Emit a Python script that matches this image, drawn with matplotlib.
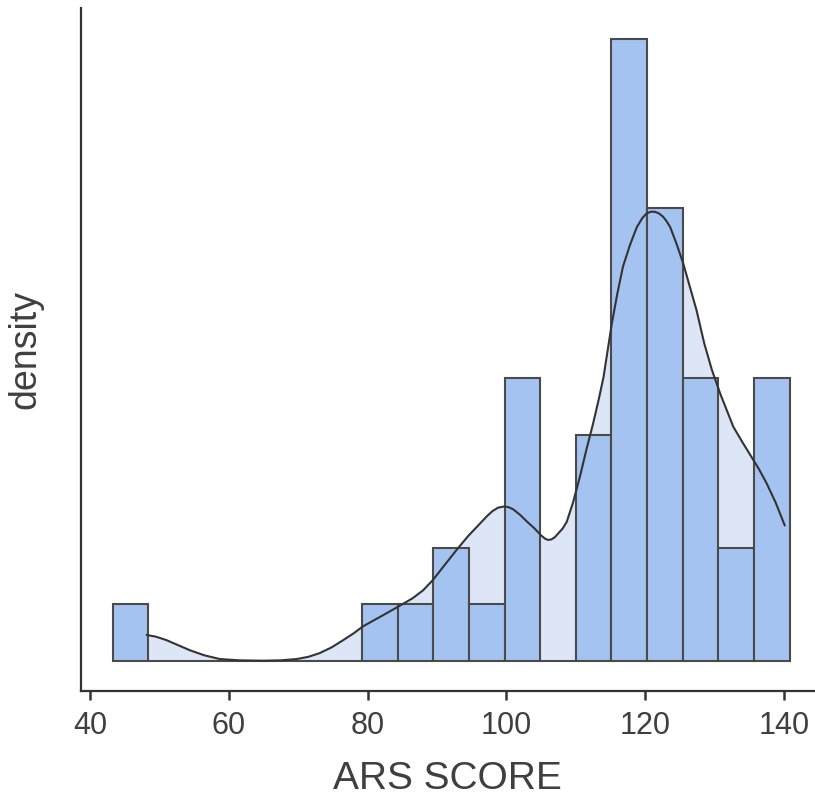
import numpy as np
import matplotlib
matplotlib.use("Agg")
import matplotlib.pyplot as plt

# histogram: 19 equal bins between the lowest and highest score
bin_lo, bin_hi = 43.3, 140.8
counts = [1, 0, 0, 0, 0, 0, 0, 1, 1, 2, 1, 5, 0, 4, 11, 8, 5, 2, 5]

# density curve (scaled to count units)
kde_x = [48.2, 49.5, 51.0, 52.7, 54.4, 56.5, 58.7, 61.5, 64.9, 67.5, 69.8,
         71.5, 73.1, 74.8, 76.5, 78.0, 79.3, 81.8, 84.4, 86.5, 88.0, 89.4,
         91.0, 92.8, 94.5, 96.2, 97.2, 98.0, 98.8, 99.6, 100.3, 101.0, 102.0,
         103.0, 104.0, 105.0, 105.6, 106.0, 106.5, 107.0, 107.5, 108.1,
         108.7, 109.6, 110.6, 111.5, 112.5, 113.3, 114.0, 115.2, 116.0,
         116.8, 117.8, 118.8, 119.6, 120.2, 120.8, 121.4, 122.0, 122.6,
         123.1, 123.6, 124.5, 125.5, 126.4, 127.4, 128.5, 129.6, 130.8,
         131.8, 132.7, 134.0, 135.3, 136.4, 137.5, 138.8, 140.1]
kde_y = [0.46, 0.43, 0.37, 0.28, 0.19, 0.10, 0.035, 0.012, 0.005, 0.012, 0.035,
         0.075, 0.14, 0.24, 0.37, 0.49, 0.61, 0.78, 0.96, 1.11, 1.25, 1.43,
         1.68, 1.96, 2.21, 2.43, 2.56, 2.65, 2.71, 2.73, 2.72, 2.68, 2.58,
         2.46, 2.35, 2.22, 2.16, 2.14, 2.15, 2.19, 2.26, 2.34,
         2.46, 2.80, 3.26, 3.72, 4.20, 4.62, 5.02, 5.97, 6.50,
         6.97, 7.35, 7.67, 7.83, 7.91, 7.94, 7.94, 7.91, 7.85,
         7.77, 7.67, 7.38, 7.02, 6.63, 6.20, 5.62, 5.15, 4.73,
         4.42, 4.14, 3.87, 3.61, 3.39, 3.14, 2.80, 2.40]

xticks = [40, 60, 80, 100, 120, 140]

BAR = "#a5c3f0"
FILL = "#dce6f7"
EDGE = "#4a4a4a"
INK = "#333333"

plt.rcParams["font.family"] = ["Liberation Sans", "DejaVu Sans"]

fig = plt.figure(figsize=(8.15, 8.08), dpi=100)
ax = fig.add_axes([0.099, 0.1448, 0.901, 0.8452])

edges = np.linspace(bin_lo, bin_hi, len(counts) + 1)
width = edges[1] - edges[0]

ax.fill_between(kde_x, 0, kde_y, color=FILL, lw=0, zorder=1)
ax.bar(edges[:-1], counts, width=width, align="edge", color=BAR,
       edgecolor=EDGE, linewidth=1.5, zorder=2)
ax.plot(kde_x, kde_y, color=INK, lw=1.5, zorder=3, solid_joinstyle="round")

ax.set_xlim(38.66, 144.47)
ax.set_ylim(-0.53, 11.54)
ax.set_xticks(xticks)
ax.set_yticks([])

for side in ("top", "right"):
    ax.spines[side].set_visible(False)
for side in ("left", "bottom"):
    ax.spines[side].set_color(INK)
    ax.spines[side].set_linewidth(1.6)

ax.tick_params(axis="x", length=6.5, width=1.8, color=INK, pad=8,
               labelsize=22, labelcolor="#3f3f3f")
ax.set_xlabel("ARS SCORE", fontsize=28, color="#3f3f3f", labelpad=14)
ax.set_ylabel("density", fontsize=27, color="#3f3f3f", labelpad=27)

fig.savefig("out.png", dpi=100)
